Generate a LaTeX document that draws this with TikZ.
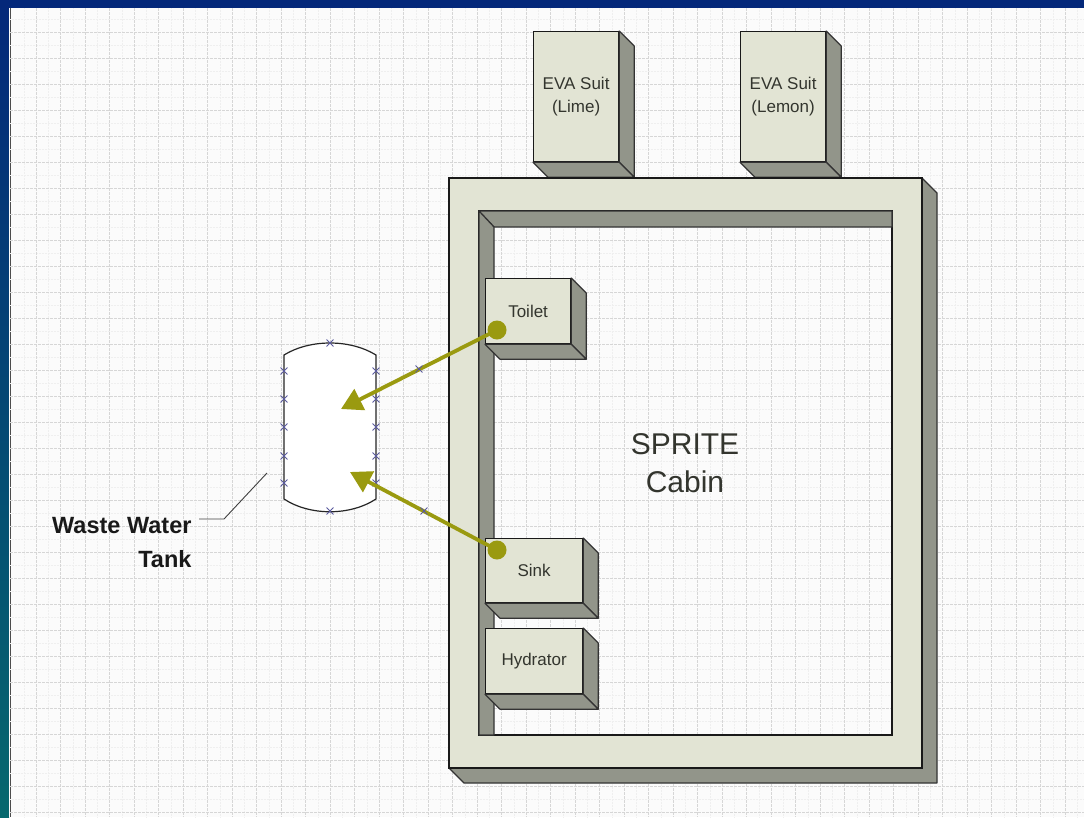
\documentclass[tikz,border=0pt]{standalone}
\usepackage{fontspec}
\setmainfont{Liberation Sans}
\usetikzlibrary{arrows.meta,positioning,calc,shapes.misc}
\definecolor{navyband}{HTML}{04287A}
\definecolor{tealband}{HTML}{06686E}
\definecolor{facecol}{HTML}{E2E4D4}
\definecolor{sidecol}{HTML}{92958A}
\definecolor{oilcol}{HTML}{9A9A10}
\definecolor{gridcol}{HTML}{D6D6D6}
\definecolor{markcol}{HTML}{5A5A9E}
\definecolor{inkcol}{HTML}{33352E}
\tikzset{
  face/.style={draw=black!90, fill=facecol, line width=1.2pt},
  side/.style={draw=black!80, fill=sidecol, line width=1.2pt, line join=round},
  unitbox/.style={face, inner sep=0pt, anchor=north west, text=inkcol, font=\fontsize{17}{23}\selectfont, align=center},
  xmark/.style={cross out, draw=markcol, line width=0.9pt, minimum size=6pt, inner sep=0pt},
  oildot/.style={circle, fill=oilcol, minimum size=19pt, inner sep=0pt},
  oilline/.style={draw=oilcol, line width=3.8pt, -{Triangle[length=21pt,width=23pt]}},
}
% box with its two visible sides, depth 15
\newcommand{\solidbox}[6]{%
  \node[unitbox, minimum width=#4pt, minimum height=#5pt] (#1) at (#2,#3) {#6};
  \draw[side] (#1.north east) -- ++(15,15) -- ($(#1.south east)+(15,15)$) -- (#1.south east) -- cycle;
  \draw[side] (#1.south west) -- ++(15,15) -- ($(#1.south east)+(15,15)$) -- (#1.south east) -- cycle;
}
\begin{document}
\begin{tikzpicture}[x=1pt,y=-1pt]
  \useasboundingbox (0,0) rectangle (1084,817);
  % Frame and sheet
  \fill[top color=navyband, bottom color=tealband] (0,0) rectangle (9,817);
  \fill[navyband] (0,0) rectangle (1084,8);
  \fill[white!98.5!black] (9,8) rectangle (1084,817);
  \draw[black!70, line width=1pt] (10,8) -- (10,817);
  % Grid
  \foreach \gx in {23.75,48.25,...,1084} \draw[gridcol!40, line width=0.5pt, densely dotted] (\gx,8) -- (\gx,817);
  \foreach \gy in {19,45,...,817} \draw[gridcol!40, line width=0.5pt, densely dotted] (10,\gy) -- (1084,\gy);
  \foreach \gx in {36,60.5,...,1084} \draw[gridcol, line width=0.6pt, dash pattern=on 2.5pt off 1.5pt] (\gx,8) -- (\gx,817);
  \foreach \gy in {32,58,...,817} \draw[gridcol, line width=0.6pt, dash pattern=on 2.5pt off 1.5pt] (10,\gy) -- (1084,\gy);
  % Suits
  \solidbox{lime}{533}{31}{85}{130}{EVA Suit\\(Lime)}
  \solidbox{lemon}{740}{31}{85}{130}{EVA Suit\\(Lemon)}
  % Cabin
  \draw[side] (922,178) -- (937,193) -- (937,783) -- (464,783) -- (449,768) -- (922,768) -- cycle;
  \draw[face, even odd rule] (449,178) rectangle (922,768) (479,211) rectangle (892,735);
  \draw[side] (479,211) -- (892,211) -- (892,227) -- (494,227) -- cycle;
  \draw[side] (479,211) -- (494,227) -- (494,735) -- (479,735) -- cycle;
  \node[font=\fontsize{30}{38}\selectfont, align=center, text=inkcol] (cabin) at (685,463) {SPRITE\\Cabin};
  % Units
  \solidbox{toilet}{485}{278}{85}{65}{Toilet}
  \solidbox{sink}{485}{538}{97}{64}{Sink}
  \solidbox{hydrator}{485}{628}{97}{65}{Hydrator}
  % Tank
  \draw[black!85, fill=white, line width=1.2pt] (284,355) .. controls (310,339) and (350,339) .. (376,355)
    -- (376,499) .. controls (350,516) and (310,516) .. (284,499) -- cycle;
  \foreach \my in {371,399,427,456,483} {
    \node[xmark] at (284,\my) {};
    \node[xmark] at (376,\my) {};
  }
  \node[xmark] at (330,343) {};
  \node[xmark] at (330,511) {};
  % Water lines
  \node[oildot] (toiletdot) at (497,330) {};
  \node[oildot] (sinkdot) at (497,550) {};
  \coordinate (tanktop) at (341,409);
  \coordinate (tankbot) at (350,472);
  \draw[oilline] (toiletdot.center) -- (tanktop);
  \draw[oilline] (sinkdot.center) -- (tankbot);
  \node[xmark] at (419,369) {};
  \node[xmark] at (424,511) {};
  % Label
  \node[font=\bfseries\fontsize{23.5}{34}\selectfont, align=right, anchor=east, text=black!90] (wastelabel) at (195,543) {Waste Water\\Tank};
  \coordinate (leadstart) at (199,519);
  \coordinate (leadend) at (267,473);
  \draw[black!75, line width=0.9pt] (leadstart) -- (224,519) -- (leadend);
\end{tikzpicture}
\end{document}
